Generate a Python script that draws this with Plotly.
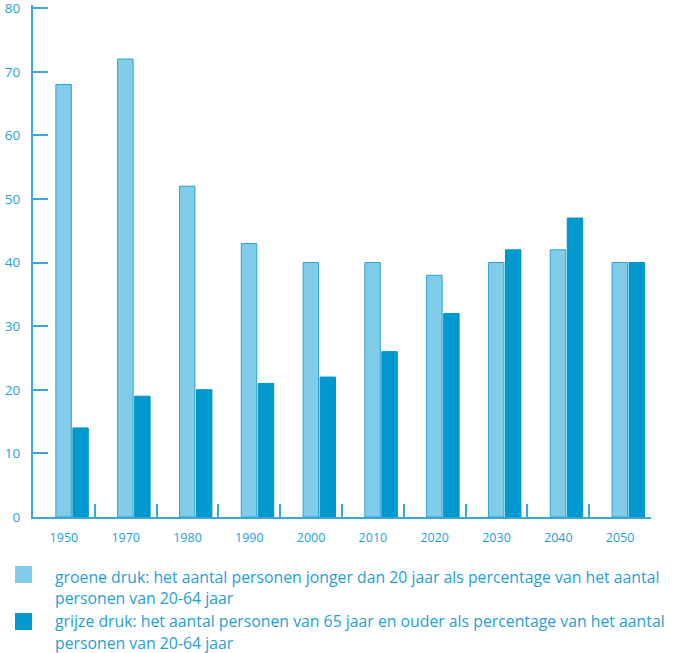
import plotly.graph_objects as go

years = ["1950", "1970", "1980", "1990", "2000", "2010", "2020", "2030", "2040", "2050"]
groene_druk = [68, 72, 52, 43, 40, 40, 38, 40, 42, 40]
grijze_druk = [14, 19, 20, 21, 22, 26, 32, 42, 47, 40]
y_ticks = [0, 10, 20, 30, 40, 50, 60, 70, 80]

legend_lines = [
    ["groene druk: het aantal personen jonger dan 20 jaar als percentage van het aantal",
     "personen van 20-64 jaar"],
    ["grijze druk: het aantal personen van 65 jaar en ouder als percentage van het aantal",
     "personen van 20-64 jaar"],
]

axis_col = "#3aa7d9"
text_col = "#1f9fd5"
light = "#80cce9"
dark = "#0099cf"

W, H = 680, 653
L, R, T, B = 33, 29, 5, 136
pw, ph = W - L - R, H - T - B

def px_x(x):
    return (x - L) / pw

def px_y(y):
    return (H - B - y) / ph

fig = go.Figure()
fig.add_trace(go.Bar(x=years, y=groene_druk, name=" ".join(legend_lines[0]), width=0.25, offset=-0.13,
                     marker=dict(color=light, line=dict(color="#2da2d5", width=1)), showlegend=False))
fig.add_trace(go.Bar(x=years, y=grijze_druk, name=" ".join(legend_lines[1]), width=0.25, offset=0.145,
                     marker=dict(color=dark, line=dict(color="#0092c8", width=1)), showlegend=False))

# manual legend (squares + wrapped text)
sq_tops = [566, 613]
baselines = [[582, 603], [626, 648]]
for i, col in enumerate([light, dark]):
    fig.add_shape(type="rect", xref="paper", yref="paper",
                  x0=px_x(15), x1=px_x(32), y0=px_y(sq_tops[i]), y1=px_y(sq_tops[i] + 17),
                  fillcolor=col, line=dict(width=0))
    for j, line in enumerate(legend_lines[i]):
        fig.add_annotation(xref="paper", yref="paper", x=px_x(53), y=px_y(baselines[i][j] - 5),
                           xanchor="left", yanchor="middle", showarrow=False, text=line,
                           font=dict(size=15.8, color=text_col))

fig.update_layout(
    width=W, height=H,
    margin=dict(l=L, r=R, t=T, b=B, autoexpand=False),
    plot_bgcolor="white", paper_bgcolor="white",
    font=dict(family="Open Sans", color=text_col, size=12),
    showlegend=False,
    xaxis=dict(type="category", range=[-0.5, 9.5], showline=True, linecolor=axis_col, linewidth=2,
               ticks="inside", tickson="boundaries", ticklen=13, tickcolor=axis_col, tickwidth=2,
               showgrid=False, tickfont=dict(size=12.5, color=text_col), ticklabelstandoff=8,
               tickangle=0, automargin=False),
    yaxis=dict(range=[0, 80.5], tickvals=y_ticks, showline=True, linecolor=axis_col, linewidth=2,
               ticks="inside", ticklen=15, tickcolor=axis_col, tickwidth=2, showgrid=False,
               zeroline=False, tickfont=dict(size=13.5, color=text_col), ticklabelstandoff=8,
               ticklabeloverflow="allow", automargin=False),
)

fig.write_html("out.html", config={"displayModeBar": False},
               post_script="document.body.style.margin='0px';")
